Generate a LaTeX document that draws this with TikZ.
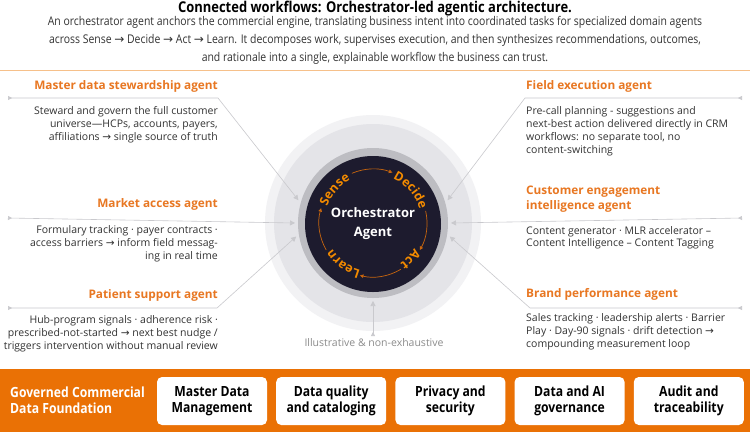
\documentclass[tikz,border=0pt]{standalone}
\usepackage{fontspec}
\setmainfont{Open Sans}
\newfontfamily\condf[FakeStretch=0.87]{Open Sans}
\newfontfamily\symf{DejaVu Sans}
\usetikzlibrary{arrows.meta,decorations.text}
\definecolor{agentor}{HTML}{E87722}
\definecolor{barorange}{HTML}{EA7105}
\definecolor{txt}{HTML}{333333}
\definecolor{conncol}{HTML}{C9C9CD}
\definecolor{navy}{HTML}{1D1B2E}
\definecolor{ringg}{HTML}{BDBDC2}
\definecolor{ringl}{HTML}{E4E4E8}
\definecolor{ringo}{HTML}{F2F2F4}
\definecolor{cyc}{HTML}{F28A00}
\definecolor{cycline}{HTML}{C8650E}
\definecolor{rulecol}{HTML}{F6C08A}
\definecolor{illus}{HTML}{8C8C8C}
\newcommand\ar{{\symf →}}
\newcommand\cycfont{\fontsize{12.5}{12.5}\selectfont\bfseries\color{cyc}}
\begin{document}
\begin{tikzpicture}[x=1pt,y=-1pt,
  conn/.style={draw=conncol, line width=0.6pt, arrows={Triangle[reversed,length=4pt,width=4pt]-Triangle[length=5pt,width=5pt]}},
  agent/.style={text=agentor, font=\fontsize{11.8}{15}\selectfont\bfseries, inner sep=0pt},
  desc/.style={text=txt, font=\fontsize{10.5}{12.8}\selectfont, inner sep=0pt},
  fbox/.style={fill=white, rounded corners=5pt, minimum width=110pt, minimum height=48pt, inner sep=0pt, align=center, font=\condf\fontsize{14}{16.5}\selectfont\bfseries, text=black},
  cycarrow/.style={draw=cycline, line width=0.7pt, arrows={-Triangle[length=3.5pt,width=3.5pt]}},
  cyctext/.style={decorate, decoration={text along path, text align=center}}
]
\useasboundingbox (0,0) rectangle (750,432);
\fill[white] (0,0) rectangle (750,432);

% header
\node[font=\condf\fontsize{14.9}{17}\selectfont\bfseries, text=black] (title) at (375,9) {Connected workflows: Orchestrator-led agentic architecture.};
\node[font=\condf\fontsize{12}{18}\selectfont, text=txt, align=center] (intro) at (375,40) {An orchestrator agent anchors the commercial engine, translating business intent into coordinated tasks for specialized domain agents\\
across Sense \ar\ Decide \ar\ Act \ar\ Learn. It decomposes work, supervises execution, and then synthesizes recommendations, outcomes,\\
and rationale into a single, explainable workflow the business can trust.};
\draw[rulecol, line width=0.8pt] (0,70) -- (750,70);

% central circle
\node[circle, fill=ringo, minimum size=216pt, inner sep=0pt] (outerring) at (373,223) {};
\node[circle, fill=ringl, minimum size=198pt, inner sep=0pt] (lightring) at (373,223) {};
\node[circle, fill=ringg, minimum size=150pt, inner sep=0pt, outer sep=3pt] (grayring) at (373,223) {};
\node[circle, fill=navy, minimum size=136pt, inner sep=0pt, align=center, text=white, font=\fontsize{13}{19}\selectfont\bfseries] (orch) at (373,224) {Orchestrator\\Agent};

\begin{scope}[shift={(373,223)}, y=1pt]
  \path[cyctext, decoration={text={|\cycfont|Sense}}] (160:48.5) arc[start angle=160, end angle=118, radius=48.5];
  \path[cyctext, decoration={text={|\cycfont|Decide}}] (65:48.5) arc[start angle=65, end angle=17, radius=48.5];
  \path[cyctext, decoration={text={|\cycfont|Act}}] (-32:48.5) arc[start angle=-32, end angle=-56, radius=48.5];
  \path[cyctext, decoration={text={|\cycfont|Learn}}] (254:48.5) arc[start angle=254, end angle=214, radius=48.5];
  \draw[cycarrow] (113:54) arc[start angle=113, end angle=69, radius=54];
  \draw[cycarrow] (13:54) arc[start angle=13, end angle=-30, radius=54];
  \draw[cycarrow] (-59:54) arc[start angle=-59, end angle=-104, radius=54];
  \draw[cycarrow] (210:54) arc[start angle=210, end angle=164, radius=54];
\end{scope}

% left agents
\node[agent, anchor=base east] (mds) at (218,89) {Master data stewardship agent};
\node[desc, anchor=north east, align=right] (mdsd) at (218,106.5) {Steward and govern the full customer\\universe—HCPs, accounts, payers,\\affiliations \ar\ single source of truth};
\node[agent, anchor=base east] (mka) at (218,207) {Market access agent};
\node[desc, anchor=north east, align=right] (mkad) at (218,225.5) {Formulary tracking · payer contracts ·\\access barriers \ar\ inform field messag-\\ing in real time};
\node[agent, anchor=base east] (psa) at (218,298) {Patient support agent};
\node[desc, anchor=north east, align=right] (psad) at (218,315.5) {Hub-program signals · adherence risk ·\\prescribed-not-started \ar\ next best nudge /\\triggers intervention without manual review};

% right agents
\node[agent, anchor=base west] (fea) at (526,89) {Field execution agent};
\node[desc, anchor=north west, align=left] (fead) at (526,106.5) {Pre-call planning - suggestions and\\next-best action delivered directly in CRM\\workflows: no separate tool, no\\content-switching};
\node[agent, anchor=north west, align=left] (cea) at (526,185.5) {Customer engagement\\intelligence agent};
\node[desc, anchor=north west, align=left] (cead) at (526,226) {Content generator · MLR accelerator –\\Content Intelligence – Content Tagging};
\node[agent, anchor=base west] (bpa) at (526,297) {Brand performance agent};
\node[desc, anchor=north west, align=left] (bpad) at (526,313.5) {Sales tracking · leadership alerts · Barrier\\Play · Day-90 signals · drift detection \ar\\compounding measurement loop};

% connectors
\coordinate (l1s) at (8,98);   \coordinate (l1b) at (218,98);
\coordinate (l2s) at (8,218);
\coordinate (l3s) at (8,308);  \coordinate (l3b) at (217,308);
\coordinate (r1s) at (742,98); \coordinate (r1b) at (525,98);
\coordinate (r2s) at (742,218);
\coordinate (r3s) at (742,308); \coordinate (r3b) at (530,308);
\coordinate (bs) at (373,336);
\draw[conn] (l1s) -- (l1b) -- (grayring.163);
\draw[conn] (l2s) -- (grayring.180);
\draw[conn] (l3s) -- (l3b) -- (grayring.190);
\draw[conn] (r1s) -- (r1b) -- (grayring.17);
\draw[conn] (r2s) -- (grayring.0);
\draw[conn] (r3s) -- (r3b) -- (grayring.-10);
\draw[conn] (bs) -- (grayring.270);

\node[text=illus, font=\fontsize{10.5}{12}\selectfont, inner sep=0pt] (illus) at (374,343) {Illustrative \& non-exhaustive};

% foundation bar
\node[fill=barorange, minimum width=750pt, minimum height=63pt, anchor=north west, inner sep=0pt] (bar) at (0,369) {};
\node[anchor=west, align=left, text=white, font=\condf\fontsize{14}{16.5}\selectfont\bfseries, inner sep=0pt] (gcdf) at (10,400) {Governed Commercial\\Data Foundation};
\node[fbox] (b1) at (212,401) {Master Data\\Management};
\node[fbox] (b2) at (331.2,401) {Data quality\\and cataloging};
\node[fbox] (b3) at (450.4,401) {Privacy and\\security};
\node[fbox] (b4) at (569.6,401) {Data and AI\\governance};
\node[fbox] (b5) at (688.8,401) {Audit and\\traceability};
\end{tikzpicture}
\end{document}
